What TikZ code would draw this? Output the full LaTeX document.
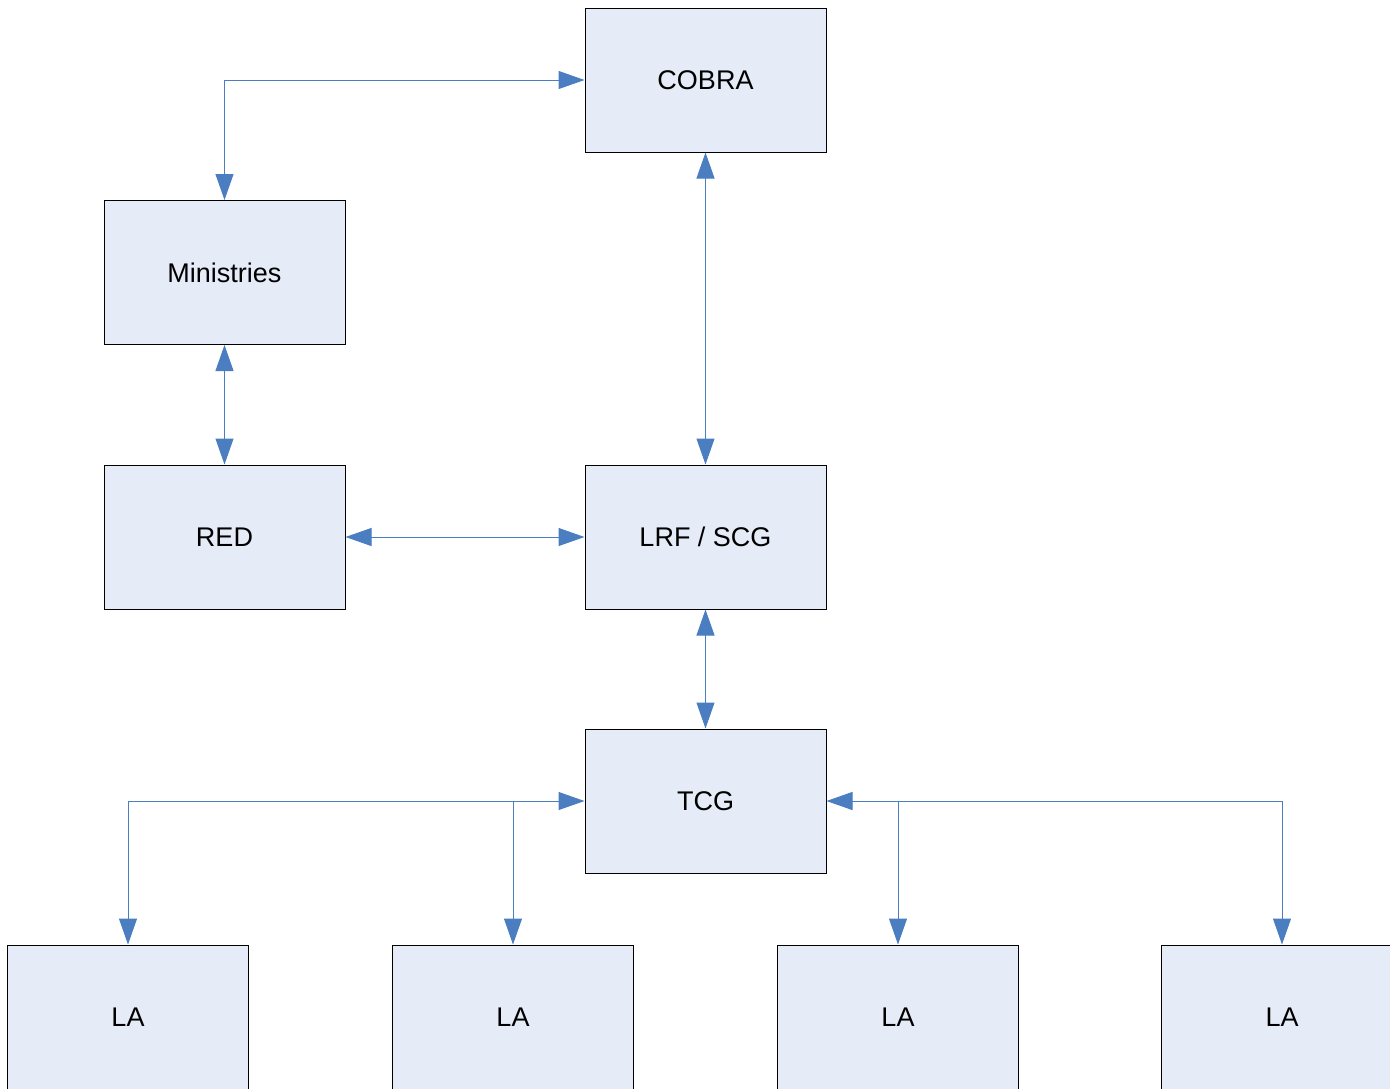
\documentclass[tikz,border=0pt]{standalone}
\usepackage{fontspec}
\setmainfont{Liberation Sans}
\usetikzlibrary{arrows.meta}

\definecolor{linkblue}{RGB}{74,126,192}
\definecolor{boxfill}{RGB}{230,236,247}

\tikzset{
  orgbox/.style={draw=black, line width=1pt, fill=boxfill, minimum width=241pt,
    minimum height=144pt, inner sep=0pt, font=\fontsize{27}{31}\selectfont},
  link/.style={draw=linkblue, line width=1pt},
  bigtip/.tip={Triangle[length=26pt,width=18pt]}
}

\begin{document}
\begin{tikzpicture}[x=1pt,y=-1pt]
  \useasboundingbox (0,0) rectangle (1390,1088);

  % Drawing boxes
  \node[orgbox] (cobra) at (705.5,80) {COBRA};
  \node[orgbox] (min) at (224.5,272.5) {Ministries};
  \node[orgbox] (red) at (224.5,537) {RED};
  \node[orgbox] (lrf) at (705.5,537) {LRF / SCG};
  \node[orgbox] (tcg) at (705.5,801) {TCG};

  % Drawing local authorities
  \foreach \i/\x in {1/128,2/513,3/898,4/1282}
    \node[orgbox] (la\i) at (\x,1017) {LA};

  % Drawing links
  \draw[link, bigtip-bigtip] (cobra.west) -| (min.north);
  \draw[link, bigtip-bigtip] (cobra.south) -- (lrf.north);
  \draw[link, bigtip-bigtip] (min.south) -- (red.north);
  \draw[link, bigtip-bigtip] (red.east) -- (lrf.west);
  \draw[link, bigtip-bigtip] (lrf.south) -- (tcg.north);

  % Drawing links TCG to LA
  \draw[link, bigtip-bigtip] (tcg.west) -| (la1.north);
  \draw[link, -bigtip] (tcg.west -| la2.north) -- (la2.north);
  \draw[link, bigtip-bigtip] (tcg.east) -| (la4.north);
  \draw[link, -bigtip] (tcg.east -| la3.north) -- (la3.north);
\end{tikzpicture}
\end{document}
